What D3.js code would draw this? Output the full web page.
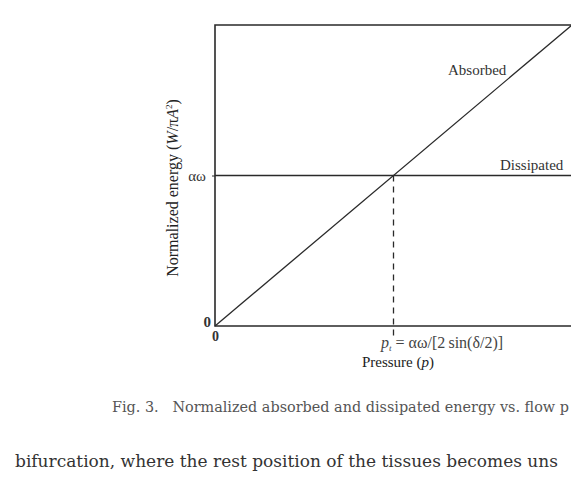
<!DOCTYPE html>
<html><head><meta charset="utf-8">
<script src="https://cdn.jsdelivr.net/npm/d3@7"></script>
<style>body{margin:0;background:#fff;overflow:hidden}svg{display:block}</style>
</head><body>
<script>
// Normalized units: pressure in units of p_t, energy in units of αω
const pressure = [0, 2];
const absorbed = [0, 2];
const dissipated = [1, 1];
const thresholdP = 1;
const yTickValues = [0, 1];
const yTickLabels = ["0", "αω"];
const xTickValues = [0];
const xTickLabels = ["0"];

const W = 571, H = 477;
const svg = d3.select("body").append("svg").attr("width", W).attr("height", H);
const m = {left: 215, top: 25, right: 572, bottom: 326};
const x = d3.scaleLinear().domain([0, 2]).range([m.left, m.right]);
const y = d3.scaleLinear().domain([0, 2]).range([m.bottom, m.top]);
const ink = "#2a2a2a";
const serif = "'Liberation Serif', 'Times New Roman', serif";

// frame (left, top, bottom)
svg.append("path")
  .attr("d", `M${x(2)},${y(2)}H${x(0)}V${y(0)}H${x(2)}`)
  .attr("fill", "none").attr("stroke", ink).attr("stroke-width", 1.6);

const line = d3.line().x(d => x(d[0])).y(d => y(d[1]));
svg.append("path").datum(pressure.map((p, i) => [p, absorbed[i]]))
  .attr("d", line).attr("fill", "none").attr("stroke", ink).attr("stroke-width", 1.3);
svg.append("path").datum(pressure.map((p, i) => [p, dissipated[i]]))
  .attr("d", line).attr("fill", "none").attr("stroke", ink).attr("stroke-width", 1.3);

// dashed threshold
svg.append("line")
  .attr("x1", x(thresholdP)).attr("x2", x(thresholdP))
  .attr("y1", y(1)).attr("y2", y(0) + 10)
  .attr("stroke", ink).attr("stroke-width", 1.3).attr("stroke-dasharray", "6,5");

// y ticks
const ya = svg.append("g").attr("transform", `translate(${m.left},0)`)
  .call(d3.axisLeft(y).tickValues(yTickValues).tickFormat((d, i) => yTickLabels[i]).tickSize(3).tickPadding(6));
ya.select(".domain").remove();
ya.selectAll("line").attr("stroke", ink);
ya.selectAll("text").attr("font-family", serif).attr("font-size", 15).attr("fill", "#333");
ya.selectAll(".tick").filter(d => d === 0).select("text").attr("font-weight", "bold").attr("dy", "0.05em").attr("x", -4);
ya.selectAll(".tick").filter(d => d === 0).select("line").remove();

// x ticks
const xa = svg.append("g").attr("transform", `translate(0,${m.bottom})`)
  .call(d3.axisBottom(x).tickValues(xTickValues).tickFormat((d, i) => xTickLabels[i]).tickSize(0).tickPadding(5));
xa.select(".domain").remove();
xa.selectAll("text").attr("font-family", serif).attr("font-size", 14).attr("font-weight", "bold").attr("fill", "#333");

// p_t label
const pt = svg.append("text").attr("x", 381).attr("y", 348)
  .attr("font-family", serif).attr("font-size", 16).attr("fill", "#444");
pt.append("tspan").attr("font-style", "italic").text("p");
pt.append("tspan").attr("font-size", 9).attr("font-style", "italic").attr("dy", 3).text("t");
pt.append("tspan").attr("dy", -3).text(" = αω/[2\u2009sin(δ/2)]");

// axis titles
const xt = svg.append("text").attr("x", 398).attr("y", 367).attr("text-anchor", "middle")
  .attr("font-family", serif).attr("font-size", 15).attr("fill", "#222");
xt.append("tspan").text("Pressure (");
xt.append("tspan").attr("font-style", "italic").text("p");
xt.append("tspan").text(")");

const yt = svg.append("text").attr("transform", "translate(178,188) rotate(-90)").attr("text-anchor", "middle")
  .attr("font-family", serif).attr("font-size", 16).attr("fill", "#222");
yt.append("tspan").text("Normalized energy (");
yt.append("tspan").attr("font-style", "italic").text("W");
yt.append("tspan").text("/π");
yt.append("tspan").attr("font-style", "italic").text("A");
yt.append("tspan").attr("font-size", 9).attr("dy", -6).text("2");
yt.append("tspan").attr("dy", 6).text(")");

// series labels
svg.append("text").attr("x", 448).attr("y", 75).attr("font-family", serif).attr("font-size", 15).attr("fill", "#333").text("Absorbed");
svg.append("text").attr("x", 500).attr("y", 170).attr("font-family", serif).attr("font-size", 15).attr("fill", "#333").text("Dissipated");

// caption and body text (the reference crops these at the right edge)
svg.append("text").attr("x", 112).attr("y", 412).attr("font-family", "'DejaVu Serif', serif").attr("font-size", 14.4).attr("fill", "#555")
  .attr("xml:space", "preserve").text("Fig. 3.   Normalized absorbed and dissipated energy vs. flow p");
svg.append("text").attr("x", 15).attr("y", 467).attr("font-family", "'DejaVu Serif', serif").attr("font-size", 17).attr("fill", "#333")
  .text("bifurcation, where the rest position of the tissues becomes uns");
</script>
</body></html>
